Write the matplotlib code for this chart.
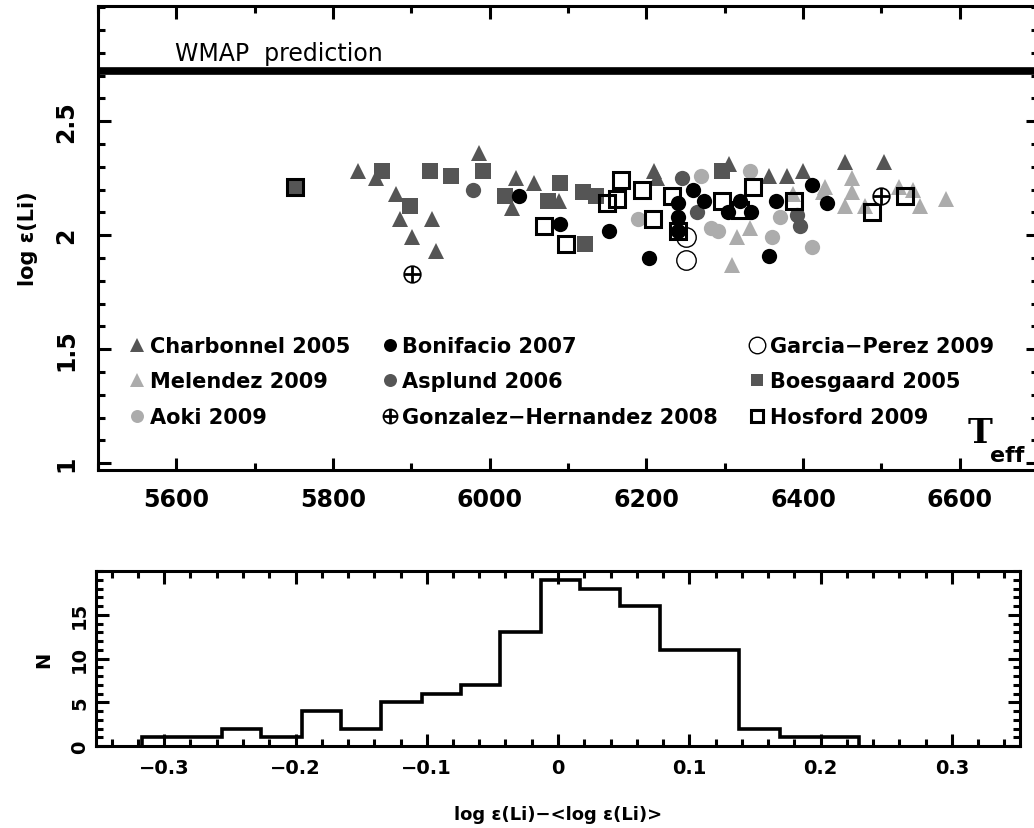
import matplotlib
matplotlib.use("Agg")
import matplotlib.pyplot as plt
from matplotlib.legend_handler import HandlerTuple

# ---------------- data ----------------
charbonnel_T = [5832, 5855, 5880, 5886, 5926, 5901, 5932, 5986, 6034, 6028, 6057, 6089,
                6210, 6214, 6306, 6357, 6379, 6400, 6453, 6504]
charbonnel_L = [2.28, 2.25, 2.18, 2.07, 2.07, 1.99, 1.93, 2.36, 2.25, 2.12, 2.23, 2.15,
                2.28, 2.25, 2.31, 2.26, 2.26, 2.28, 2.32, 2.32]

melendez_T = [6428, 6463, 6463, 6453, 6479, 6523, 6540, 6549, 6583, 6332, 6316, 6309, 6425, 6387]
melendez_L = [2.21, 2.25, 2.19, 2.13, 2.13, 2.21, 2.20, 2.13, 2.16, 2.03, 1.99, 1.87, 2.19, 2.18]

aoki_T = [6189, 6270, 6283, 6291, 6332, 6361, 6370, 6411]
aoki_L = [2.07, 2.26, 2.03, 2.02, 2.28, 1.99, 2.08, 1.95]

asplund_T = [5979, 6246, 6265, 6392, 6396]
asplund_L = [2.20, 2.25, 2.10, 2.09, 2.04]

bonifacio_T = [6037, 6090, 6152, 6204, 6240, 6240, 6240, 6259, 6273, 6304, 6319, 6334,
               6366, 6357, 6411, 6431]
bonifacio_L = [2.17, 2.05, 2.02, 1.90, 2.14, 2.08, 2.02, 2.20, 2.15, 2.10, 2.15, 2.10,
               2.15, 1.91, 2.22, 2.14]

gonzalez_T = [5901, 6500]
gonzalez_L = [1.83, 2.17]

garcia_T = [6251, 6251]
garcia_L = [1.99, 1.89]

boesgaard_T = [5751, 5862, 5924, 5950, 5991, 5898, 6019, 6090, 6074, 6119, 6136, 6122, 6297]
boesgaard_L = [2.21, 2.28, 2.28, 2.26, 2.28, 2.13, 2.17, 2.23, 2.15, 2.19, 2.17, 1.96, 2.28]

hosford_T = [5751, 6069, 6098, 6150, 6162, 6168, 6194, 6208, 6233, 6240, 6297, 6319,
             6336, 6389, 6488, 6530]
hosford_L = [2.21, 2.04, 1.96, 2.14, 2.16, 2.24, 2.20, 2.07, 2.17, 2.02, 2.15, 2.11,
             2.21, 2.15, 2.10, 2.17]

wmap_value = 2.72

hist_edges = [-0.317, -0.287, -0.256, -0.226, -0.195, -0.165, -0.135, -0.104, -0.074,
              -0.044, -0.013, 0.017, 0.047, 0.078, 0.108, 0.138, 0.169, 0.199, 0.229]
hist_counts = [1, 1, 2, 1, 4, 2, 5, 6, 7, 13, 19, 18, 16, 11, 11, 2, 1, 1]

top_xticks = [5600, 5800, 6000, 6200, 6400, 6600]
top_yticks = [1, 1.5, 2, 2.5]
hist_xticks = [-0.3, -0.2, -0.1, 0, 0.1, 0.2, 0.3]
hist_xticklabels = ["\u22120.3", "\u22120.2", "\u22120.1", "0", "0.1", "0.2", "0.3"]
hist_yticks = [0, 5, 10, 15]

# ---------------- styling ----------------
plt.rcParams['font.family'] = ['DejaVu Sans']
DARK = '#555555'
LIGHT = '#acacac'
W, H = 1034, 829
fig = plt.figure(figsize=(W / 100, H / 100), dpi=100)

def frac(l, t, r, b):
    return [l / W, 1 - b / H, (r - l) / W, (b - t) / H]

ax = fig.add_axes(frac(98, 7, 1038, 471))
axh = fig.add_axes(frac(96, 572, 1020, 747))

for a in (ax, axh):
    for s in a.spines.values():
        s.set_linewidth(2.2)

# ---------------- top panel ----------------
ax.axhline(wmap_value, color='black', lw=5.5, zorder=1)
ax.text(5598, wmap_value + 0.025, 'WMAP  prediction', fontsize=17, ha='left', va='bottom')

h_ch, = ax.plot(charbonnel_T, charbonnel_L, '^', color=DARK, ms=12, mew=0, ls='none', zorder=2)
h_me, = ax.plot(melendez_T, melendez_L, '^', color=LIGHT, ms=12, mew=0, ls='none', zorder=2)
h_ao, = ax.plot(aoki_T, aoki_L, 'o', color=LIGHT, ms=11, mew=0, ls='none', zorder=2)
h_as, = ax.plot(asplund_T, asplund_L, 'o', color=DARK, ms=11, mew=0, ls='none', zorder=2)
h_bo, = ax.plot(boesgaard_T, boesgaard_L, 's', color=DARK, ms=11, mew=0, ls='none', zorder=3)
h_ho, = ax.plot(hosford_T, hosford_L, 's', mfc='none', mec='black', ms=11, mew=2.2,
                ls='none', zorder=4)
h_bf, = ax.plot(bonifacio_T, bonifacio_L, 'o', color='black', ms=11, mew=0, ls='none', zorder=4)
h_gh1, = ax.plot(gonzalez_T, gonzalez_L, 'o', mfc='white', mec='black', ms=12, mew=1.2,
                 ls='none', zorder=5)
h_gh2, = ax.plot(gonzalez_T, gonzalez_L, '+', color='black', ms=12, mew=2.0, ls='none', zorder=6)
h_gp, = ax.plot(garcia_T, garcia_L, 'o', mfc='none', mec='black', ms=14, mew=1.0, ls='none',
                zorder=5)

handles = [h_ch, h_me, h_ao, h_bf, h_as, (h_gh1, h_gh2), h_gp, h_bo, h_ho]
labels = ['Charbonnel 2005', 'Melendez 2009', 'Aoki 2009', 'Bonifacio 2007', 'Asplund 2006',
          'Gonzalez\u2212Hernandez 2008', 'Garcia\u2212Perez 2009', 'Boesgaard 2005', 'Hosford 2009']
leg = ax.legend(handles, labels, ncol=3, loc='lower left', bbox_to_anchor=(0.025, 0.075),
                frameon=False, prop={'size': 15, 'weight': 'bold'}, handlelength=0.7,
                handletextpad=0.25, columnspacing=1.55, labelspacing=0.74, markerscale=0.85,
                borderaxespad=0, handler_map={tuple: HandlerTuple(ndivide=1, pad=0)})

ax.text(6610, 1.064, 'T', fontsize=24, fontweight='bold', family='DejaVu Serif',
        ha='left', va='bottom')
ax.text(6639, 0.99, 'eff', fontsize=16, fontweight='bold', ha='left', va='bottom')

ax.set_xlim(5500, 6700)
ax.set_ylim(0.97, 3.005)
ax.set_xticks(top_xticks)
ax.set_xticks([5500 + 100 * i for i in range(13)], minor=True)
ax.set_yticks(top_yticks)
ax.set_yticks([1.0 + 0.1 * i for i in range(21)], minor=True)
ax.set_yticklabels([str(v) for v in top_yticks], rotation=90, va='center')
ax.tick_params(which='both', direction='in', top=True, right=True, width=2.2)
ax.tick_params(which='major', length=9)
ax.tick_params(which='minor', length=5)
ax.tick_params(axis='x', which='major', labelsize=17, pad=12)
ax.tick_params(axis='y', which='major', labelsize=17, pad=14)
for t in ax.get_xticklabels() + ax.get_yticklabels():
    t.set_fontweight('bold')
ax.set_ylabel('log \u03b5(Li)', fontsize=15, fontweight='bold', labelpad=12)

# ---------------- histogram ----------------
axh.stairs(hist_counts, hist_edges, color='black', lw=2.6)
axh.set_xlim(-0.352, 0.352)
axh.set_ylim(0, 20)
axh.set_xticks(hist_xticks)
axh.set_xticklabels(hist_xticklabels)
axh.set_xticks([-0.34 + 0.02 * i for i in range(35)], minor=True)
axh.set_yticks(hist_yticks)
axh.set_yticks(list(range(0, 21)), minor=True)
axh.set_yticklabels([str(v) for v in hist_yticks], rotation=90, va='center')
axh.tick_params(which='both', direction='in', top=True, right=True, width=2.2)
axh.tick_params(which='major', length=9)
axh.tick_params(which='minor', length=5)
axh.tick_params(axis='x', which='major', labelsize=14, pad=9)
axh.tick_params(axis='y', which='major', labelsize=14, pad=5)
for t in axh.get_xticklabels() + axh.get_yticklabels():
    t.set_fontweight('bold')
axh.set_xlabel('log \u03b5(Li)\u2212<log \u03b5(Li)>', fontsize=13, fontweight='bold', labelpad=20)
axh.set_ylabel('N', fontsize=14, fontweight='bold', labelpad=12)

fig.savefig('out.png', dpi=100)
